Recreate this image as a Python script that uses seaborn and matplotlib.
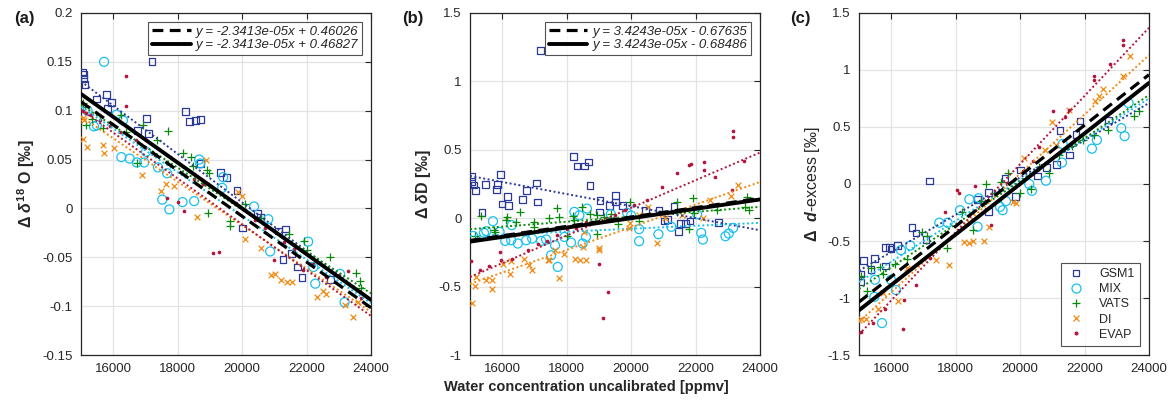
import numpy as np
import matplotlib
matplotlib.use("Agg")
import matplotlib.pyplot as plt
import seaborn as sns
from matplotlib.lines import Line2D

# ---- data ----
series = ["GSM1", "MIX", "VATS", "DI", "EVAP"]

# panel (a): delta 18O
a_x = {
    "GSM1": [15040, 15070, 15090, 15120, 15470, 15800, 15820, 15950, 16750, 17040, 17090, 17200, 18230, 18360,
             18540, 18700, 18700, 19320, 19520, 19840, 20020, 20480, 20560, 21130, 21270, 21340, 21520, 21730,
             21860, 22740],
    "MIX": [15200, 15400, 15490, 15715, 16100, 16250, 16300, 16510, 16730, 16960, 17020, 17390, 17520, 17670,
            17740, 18150, 18510, 18665, 18700, 19380, 19410, 20370, 20810, 20870, 22050, 22210, 22270, 23040, 23180],
    "VATS": [15050, 15155, 15330, 15690, 16230, 16400, 16740, 16935, 17350, 17700, 18160, 18410, 18490, 18900,
             18985, 18955, 19610, 19620, 20100, 20600, 21440, 21905, 22010, 22735, 23540, 23665, 23680],
    "DI": [15060, 15100, 15075, 15200, 15675, 15700, 16025, 16885, 17475, 17650, 17870, 18610, 18870, 19875,
           19980, 20085, 20600, 20910, 21005, 21210, 21405, 21545, 22320, 22505, 22610, 23200, 23440, 23600],
    "EVAP": [15050, 15150, 15300, 15600, 15900, 16200, 16400, 16400, 16700, 17000, 17300, 17680, 18010, 18200,
             18500, 18800, 19110, 19290, 19500, 19800, 20100, 20400, 20700, 21000, 21300, 21600, 21900, 22200,
             22600, 23000, 23300, 23700],
}
a_y = {
    "GSM1": [0.139, 0.137, 0.133, 0.127, 0.112, 0.117, 0.102, 0.108, 0.080, 0.092, 0.077, 0.150, 0.099, 0.089,
             0.090, 0.091, 0.046, 0.037, 0.032, 0.018, -0.020, -0.005, -0.009, -0.023, -0.052, -0.021, -0.046,
             -0.060, -0.071, -0.073],
    "MIX": [0.100, 0.084, 0.085, 0.150, 0.096, 0.0525, 0.090, 0.051, 0.047, 0.047, 0.058, 0.042, 0.009, 0.036,
            -0.001, 0.0065, 0.0075, 0.050, 0.046, 0.021, 0.032, 0.002, -0.011, -0.044, -0.034, -0.060, -0.077,
            -0.067, -0.096],
    "VATS": [0.108, 0.085, 0.092, 0.082, 0.096, 0.078, 0.046, 0.085, 0.070, 0.079, 0.057, 0.053, 0.043, 0.039,
             0.036, -0.005, -0.013, -0.018, 0.005, -0.010, -0.026, -0.033, -0.043, -0.050, -0.066, -0.074, -0.081],
    "DI": [0.093, 0.090, 0.0706, 0.0624, 0.0645, 0.057, 0.062, 0.034, 0.018, 0.025, 0.023, -0.009, 0.050, 0.017,
           0.013, -0.031, -0.040, -0.068, -0.067, -0.073, -0.075, -0.075, -0.091, -0.085, -0.088, -0.099, -0.111,
           -0.096],
    "EVAP": [0.100, 0.098, 0.096, 0.090, 0.084, 0.078, 0.136, 0.105, 0.070, 0.062, 0.055, 0.011, 0.007, -0.003,
             0.030, 0.025, -0.046, -0.045, 0.012, 0.006, -0.002, -0.012, -0.020, -0.053, -0.034, -0.042, -0.063,
             -0.057, -0.070, -0.068, -0.064, -0.092],
}

# panel (b): delta D
b_x = {
    "GSM1": [15062, 15062, 15124, 15165, 15371, 15474, 15815, 15845, 15948, 15990, 16175, 16206, 16640, 16743,
             17052, 17083, 17186, 18217, 18320, 18547, 18681, 18722, 19011, 19032, 19320, 19506, 19506, 19733,
             20455, 20868, 21043, 21125, 21331, 21465, 21537, 21692, 21826, 22723],
    "MIX": [15100, 15433, 15505, 15712, 15918, 16093, 16278, 16299, 16484, 16743, 16929, 17207, 17362, 17516,
            17640, 17722, 17929, 18135, 18238, 18392, 18495, 18598, 18629, 19372, 19877, 20001, 20248, 20248,
            20848, 21248, 22052, 22175, 22227, 22928, 23031, 23165],
    "VATS": [15144, 15330, 15743, 15763, 16124, 16155, 16433, 16536, 16980, 16980, 17464, 17702, 17774, 18011,
             18186, 18238, 18464, 18732, 18938, 18938, 19165, 19372, 19578, 19970, 20248, 21413, 21434, 21795,
             21929, 21949, 22671, 23547, 23599, 23650],
    "DI": [15062, 15165, 15196, 15505, 15680, 15680, 16010, 16227, 16258, 16670, 16845, 16918, 17413, 17464,
           17640, 17774, 17929, 18258, 18423, 18495, 18547, 18598, 19011, 19011, 19928, 19980, 20238, 20526,
           20804, 21063, 21578, 22217, 22454, 23093, 23330],
    "EVAP": [15040, 15300, 15600, 15918, 15969, 16300, 16794, 17100, 17400, 17700, 18000, 18300, 18600, 18990,
             19114, 19268, 19500, 19800, 20100, 20506, 20970, 21434, 21795, 21867, 22258, 22258, 22600, 23144,
             23165, 23165, 23500],
}
b_y = {
    "GSM1": [0.302, 0.267, 0.242, 0.200, 0.039, 0.249, 0.210, 0.249, 0.322, 0.104, 0.160, 0.090, 0.137, 0.204,
             0.258, 0.119, 1.228, 0.453, 0.382, 0.382, 0.411, 0.241, 0.046, 0.131, 0.095, 0.168, 0.119, 0.095,
             0.058, 0.058, -0.020, -0.010, 0.083, -0.100, -0.039, -0.039, -0.020, -0.034],
    "MIX": [-0.13, -0.107, -0.095, -0.022, -0.100, -0.166, -0.161, -0.051, -0.185, -0.161, -0.149, -0.166,
            -0.156, -0.271, -0.198, -0.356, -0.137, -0.178, 0.046, 0.021, -0.185, -0.137, 0.070, 0.029, 0.039,
            0.02, -0.168, -0.080, -0.117, -0.063, 0.029, -0.107, -0.156, -0.132, -0.112, -0.071],
    "VATS": [-0.132, 0.014, -0.083, -0.100, -0.015, 0.009, -0.027, 0.046, -0.027, -0.063, -0.002, 0.075, 0.009,
             -0.132, 0.014, -0.010, 0.083, 0.034, -0.117, 0.021, 0.009, 0.034, -0.039, 0.119, -0.022, 0.119,
             0.046, -0.080, 0.148, 0.039, 0.058, 0.083, 0.156, 0.058],
    "DI": [-0.619, -0.497, -0.429, -0.449, -0.449, -0.519, -0.337, -0.405, -0.315, -0.295, -0.344, -0.376,
           -0.303, -0.303, -0.229, -0.436, -0.259, -0.295, -0.307, -0.210, -0.100, -0.303, -0.215, -0.234,
           -0.075, -0.034, 0.021, 0.083, -0.180, -0.002, 0.021, -0.002, 0.131, 0.160, 0.241],
    "EVAP": [-0.31, -0.38, -0.35, -0.246, -0.307, -0.30, -0.234, -0.19, -0.17, -0.12, -0.08, -0.07, -0.03,
             -0.332, -0.727, -0.539, 0.02, 0.06, 0.10, 0.136, 0.229, 0.331, 0.387, 0.394, 0.411, 0.350, 0.30,
             0.204, 0.638, 0.590, 0.42],
}

# panel (c): d-excess
c_x = {
    "GSM1": [15062, 15062, 15134, 15372, 15476, 15817, 15817, 15941, 15993, 16200, 16645, 16769, 17079, 17182,
             18682, 19024, 19024, 19531, 19851, 20007, 20545, 20824, 21135, 21238, 21527, 21734, 21858, 22737],
    "MIX": [15476, 15496, 15714, 15993, 16148, 16303, 16593, 17492, 17750, 18134, 18424, 18682, 18713, 19376,
            19458, 19562, 20286, 20369, 20803, 21300, 21321, 22230, 22385, 23141, 23245, 23369],
    "VATS": [15062, 15258, 15362, 15655, 15735, 16117, 16483, 16945, 17100, 17722, 18200, 18528, 18800, 18941,
             19200, 19400, 19614, 19996, 20338, 20600, 20907, 21200, 21600, 21941, 22300, 22717, 23545, 23680],
    "DI": [15010, 15062, 15217, 15580, 15735, 16220, 16480, 17389, 17782, 18268, 18424, 18528, 18869, 19024,
           19769, 19872, 20131, 20783, 20990, 21114, 21507, 22334, 22458, 22561, 23182, 23410],
    "EVAP": [15050, 15445, 15800, 16376, 16400, 16769, 17200, 17679, 18041, 18113, 18610, 19096, 19600, 20079,
             20390, 20596, 21010, 21403, 21527, 22303, 22303, 22800, 23182, 23182],
}
c_y = {
    "GSM1": [-0.79, -0.86, -0.67, -0.75, -0.65, -0.56, -0.72, -0.56, -0.57, -0.54, -0.38, -0.43, -0.49, 0.026,
             -0.134, -0.076, -0.243, 0.050, -0.111, 0.123, 0.070, 0.143, 0.173, 0.468, 0.255, 0.436, 0.553, 0.561],
    "MIX": [-0.99, -0.84, -1.22, -0.84, -0.93, -0.58, -0.54, -0.34, -0.34, -0.23, -0.134, -0.375, -0.125, -0.20,
            -0.23, -0.15, 0.0, -0.06, 0.029, 0.188, 0.351, 0.31, 0.386, 0.49, 0.42, 0.71],
    "VATS": [-0.81, -0.94, -0.74, -0.73, -0.79, -0.70, -0.66, -0.42, -0.46, -0.56, -0.25, -0.40, -0.15, 0.0,
             -0.08, 0.02, 0.094, -0.076, -0.047, 0.15, 0.094, 0.25, 0.33, 0.39, 0.43, 0.47, 0.60, 0.64],
    "DI": [-1.19, -1.18, -1.18, -1.10, -0.96, -1.03, -0.74, -0.67, -0.71, -0.51, -0.52, -0.50, -0.50, -0.38,
           -0.155, -0.163, 0.225, 0.30, 0.546, 0.34, 0.65, 0.73, 0.77, 0.83, 0.95, 1.12],
    "EVAP": [-1.30, -1.22, -1.10, -1.275, -1.02, -0.89, -0.65, -0.243, -0.05, -0.08, -0.02, -0.36, 0.006, 0.117,
             0.205, 0.327, 0.643, 0.585, 0.65, 0.95, 0.91, 1.05, 1.26, 1.22],
}

# per-series fit lines: value at 15000 and at 24000 ppmv
fit_ends = {
    "a": {"GSM1": [0.130, -0.093], "MIX": [0.104, -0.097], "VATS": [0.106, -0.087],
          "DI": [0.094, -0.106], "EVAP": [0.101, -0.110]},
    "b": {"GSM1": [0.309, -0.088], "MIX": [-0.131, -0.034], "VATS": [-0.080, 0.083],
          "DI": [-0.48, 0.265], "EVAP": [-0.43, 0.48]},
    "c": {"GSM1": [-0.76, 0.71], "MIX": [-0.86, 0.75], "VATS": [-0.92, 0.78],
          "DI": [-1.21, 1.13], "EVAP": [-1.32, 1.37]},
}

# overall fits (slope, intercept dashed, intercept solid)
overall = {
    "a": [-2.3413e-05, 0.46026, 0.46827],
    "b": [3.4243e-05, -0.67635, -0.68486],
    "c": [2.21554e-04, -4.35843, -4.43102],
}

x_range = [15000, 24000]
x_ticks = [16000, 18000, 20000, 22000, 24000]

colors = {"GSM1": "#2b3a98", "MIX": "#19c0ef", "VATS": "#0a8a0a", "DI": "#f08a12", "EVAP": "#b3163c"}
markers = {"GSM1": "s", "MIX": "o", "VATS": "+", "DI": "x", "EVAP": "o"}
sizes = {"GSM1": 24, "MIX": 42, "VATS": 34, "DI": 17, "EVAP": 3}
hollow = {"GSM1": True, "MIX": True, "VATS": False, "DI": False, "EVAP": False}

sns.set_theme(style="whitegrid")
plt.rcParams["font.family"] = ["Liberation Sans", "DejaVu Sans"]
plt.rcParams["mathtext.fontset"] = "custom"
plt.rcParams["mathtext.rm"] = "Liberation Sans:bold"
plt.rcParams["mathtext.it"] = "Liberation Sans:italic:bold"
plt.rcParams["mathtext.bf"] = "Liberation Sans:bold"

fig = plt.figure(figsize=(11.73, 4.01), dpi=100)
lefts = [0.0691, 0.4007, 0.7323]
axes = [fig.add_axes([l, 0.1147, 0.2472, 0.8529]) for l in lefts]

panels = [("a", a_x, a_y), ("b", b_x, b_y), ("c", c_x, c_y)]
ylims = {"a": (-0.15, 0.2), "b": (-1, 1.5), "c": (-1.5, 1.5)}
ysteps = {"a": 0.05, "b": 0.5, "c": 0.5}
ylabels = {
    "a": ("Δ $\\mathit{δ}^{18}$ O [‰]", "bold"),
    "b": ("Δ $\\mathit{δ}$D [‰]", "bold"),
    "c": ("$\\mathbf{Δ}$  $\\mathit{d}$-excess [‰]", "normal"),
}

for ax, (key, px, py) in zip(axes, panels):
    for s in series:
        sns.scatterplot(x=px[s], y=py[s], ax=ax, marker=markers[s], s=sizes[s],
                        color=colors[s], linewidth=0.9, legend=False, zorder=3)
        coll = ax.collections[-1]
        if hollow[s]:
            coll.set_facecolor("none")
        coll.set_edgecolor(colors[s])
    for s in series:
        ax.plot(x_range, fit_ends[key][s], color=colors[s], linestyle=(0, (1, 1.3)), lw=1.4, zorder=4)
    slope, i_dash, i_solid = overall[key]
    xr = np.array(x_range)
    ax.plot(xr, slope * xr + i_dash, color="black", lw=2.3, dashes=(3.4, 2.0), zorder=5,
            label=f"y = {slope:.4e}x + {i_dash:.5f}".replace("+ -", "- "))
    ax.plot(xr, slope * xr + i_solid, color="black", lw=2.8, zorder=5,
            label=f"y = {slope:.4e}x + {i_solid:.5f}".replace("+ -", "- "))

    ax.set_xlim(x_range)
    ax.set_ylim(ylims[key])
    ax.set_xticks(x_ticks)
    lo, hi = ylims[key]
    ax.set_yticks(np.round(np.arange(lo, hi + 1e-9, ysteps[key]), 2))
    ax.yaxis.set_major_formatter(matplotlib.ticker.FuncFormatter(lambda v, p: f"{v:g}"))
    ax.grid(True, color="#e3e3e3", lw=0.9)
    ax.set_axisbelow(True)
    for sp in ax.spines.values():
        sp.set_color("#262626")
        sp.set_linewidth(0.9)
    ax.tick_params(direction="in", length=4, width=0.8, top=True, right=True,
                   labelsize=9.5, colors="#262626", pad=6)
    ax.set_ylabel(ylabels[key][0], fontsize=11.5, fontweight=ylabels[key][1], color="#262626", labelpad=4)
    ax.set_facecolor("white")

    if key in ("a", "b"):
        leg = ax.legend(loc="upper right", frameon=True, fancybox=False, handlelength=2.9,
                        prop={"style": "italic", "size": 9.5}, borderaxespad=0.65,
                        labelspacing=0.1, handletextpad=0.4, borderpad=0.3)
        leg.get_frame().set_edgecolor("#262626")
        leg.get_frame().set_linewidth(0.8)

# legend of series in panel (c)
handles = []
for s in series:
    handles.append(Line2D([], [], linestyle="none", marker=markers[s],
                          markersize=np.sqrt(sizes[s]) if s != "EVAP" else 2,
                          markeredgecolor=colors[s],
                          markerfacecolor="none" if hollow[s] else colors[s],
                          markeredgewidth=0.9, label=s))
leg = axes[2].legend(handles=handles, loc="lower right", frameon=True, fancybox=False,
                     prop={"size": 9}, borderaxespad=0.7, labelspacing=0.25,
                     handletextpad=1.1, borderpad=0.45, handlelength=1.5)
leg.get_frame().set_edgecolor("#262626")
leg.get_frame().set_linewidth(0.8)
leg.set_zorder(10)

for lab, xpos in zip(["(a)", "(b)", "(c)"], [0.012, 0.343, 0.674]):
    fig.text(xpos, 0.955, lab, fontsize=12, fontweight="bold", color="#1a1a1a", va="center")

fig.text(0.5, 0.035, "Water concentration uncalibrated [ppmv]", ha="center", va="center",
         fontsize=10.5, fontweight="bold", color="#262626")

fig.savefig("out.png", dpi=100, facecolor="white")
